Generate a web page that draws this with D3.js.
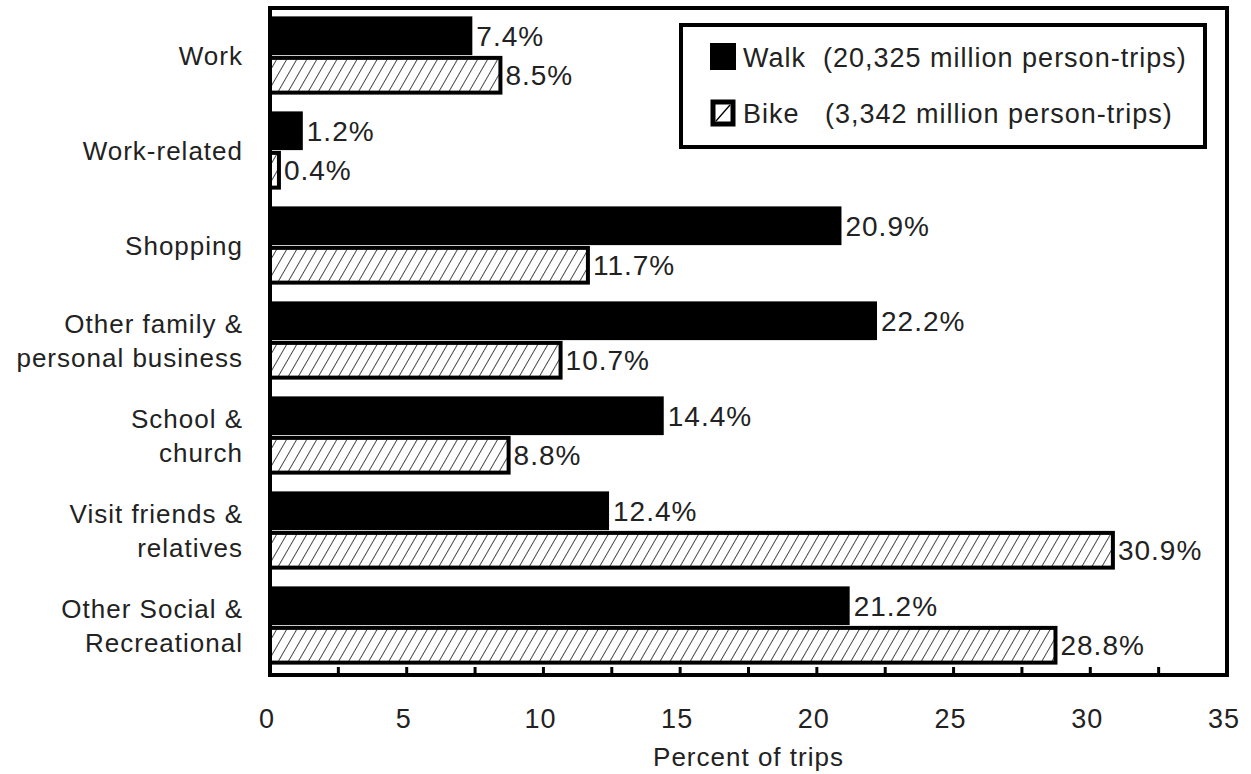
<!DOCTYPE html>
<html>
<head>
<meta charset="utf-8">
<script src="https://d3js.org/d3.v7.min.js"></script>
<style>
    html, body { margin: 0; padding: 0; background: white; }
    svg { display: block; }
    text { font-family: "Liberation Sans", Arial, sans-serif; fill: #222; letter-spacing: 1px; }
</style>
</head>
<body>
<svg width="1251" height="774"></svg>
<script>
    // purposes of trips, one label line per entry
    var categories = [
        ["Work"],
        ["Work-related"],
        ["Shopping"],
        ["Other family &", "personal business"],
        ["School &", "church"],
        ["Visit friends &", "relatives"],
        ["Other Social &", "Recreational"]
    ];
    var walk = [7.4, 1.2, 20.9, 22.2, 14.4, 12.4, 21.2];
    var bike = [8.5, 0.4, 11.7, 10.7, 8.8, 30.9, 28.8];
    var xTickLabels = [0, 5, 10, 15, 20, 25, 30, 35];
    var xMinorTicks = [2.5, 5, 7.5, 10, 12.5, 15, 17.5, 20, 22.5, 25, 27.5, 30, 32.5];
    var legendLabels = ["Walk  (20,325 million person-trips)", "Bike   (3,342 million person-trips)"];

    var svg = d3.select("svg");

    var plotLeft = 270, plotRight = 1227, plotTop = 8, plotBottom = 675;

    var x = d3.scaleLinear().domain([0, 35]).range([plotLeft, plotRight]);
    var y = d3.scaleBand()
        .domain(d3.range(categories.length))
        .range([plotTop, plotBottom - 2])
        .paddingInner(0.16)
        .paddingOuter(0.08);
    var sub = d3.scaleBand().domain(["walk", "bike"]).range([0, y.bandwidth()]).padding(0.02);

    // hatch for bike bars
    var hs = 8.7;
    var pat = svg.append("defs").append("pattern")
        .attr("id", "hatch")
        .attr("patternUnits", "userSpaceOnUse")
        .attr("width", hs).attr("height", hs)
        .attr("patternTransform", "rotate(30)");
    pat.append("rect").attr("width", hs).attr("height", hs).attr("fill", "white");
    pat.append("line")
        .attr("x1", 0).attr("y1", 0).attr("x2", 0).attr("y2", hs)
        .attr("stroke", "#000").attr("stroke-width", 1.4);

    var groups = svg.append("g").selectAll("g")
        .data(categories)
        .enter().append("g")
        .attr("transform", function (d, i) { return "translate(0," + y(i) + ")"; });

    // walk bars
    groups.append("rect")
        .attr("x", x(0))
        .attr("y", sub("walk"))
        .attr("width", function (d, i) { return x(walk[i]) - x(0); })
        .attr("height", sub.bandwidth())
        .attr("fill", "#000");

    // bike bars
    groups.append("rect")
        .attr("x", x(0))
        .attr("y", sub("bike") + 2)
        .attr("width", function (d, i) { return Math.max(x(bike[i]) - x(0) - 2, 1); })
        .attr("height", sub.bandwidth() - 4)
        .attr("fill", "url(#hatch)")
        .attr("stroke", "#000")
        .attr("stroke-width", 4);

    groups.append("text")
        .attr("x", function (d, i) { return x(walk[i]) + 4; })
        .attr("y", sub("walk") + sub.bandwidth() / 2)
        .attr("dy", "0.36em")
        .attr("font-size", 28)
        .attr("letter-spacing", 1.5)
        .text(function (d, i) { return walk[i].toFixed(1) + "%"; });

    groups.append("text")
        .attr("x", function (d, i) { return x(bike[i]) + 3; })
        .attr("y", sub("bike") + sub.bandwidth() / 2)
        .attr("dy", "0.36em")
        .attr("font-size", 28)
        .attr("letter-spacing", 1.5)
        .text(function (d, i) { return bike[i].toFixed(1) + "%"; });

    // category labels
    groups.append("text")
        .attr("text-anchor", "end")
        .attr("font-size", 26)
        .each(function (d) {
            var t = d3.select(this);
            var lh = 34;
            d.forEach(function (line, j) {
                t.append("tspan")
                    .attr("x", 243)
                    .attr("y", y.bandwidth() / 2 + (j - (d.length - 1) / 2) * lh)
                    .attr("dy", "0.36em")
                    .text(line);
            });
        });

    // frame
    svg.append("rect")
        .attr("x", plotLeft).attr("y", plotTop)
        .attr("width", plotRight - plotLeft).attr("height", plotBottom - plotTop)
        .attr("fill", "none")
        .attr("stroke", "#000")
        .attr("stroke-width", 4);

    // minor ticks pointing up from the bottom axis
    svg.append("g").selectAll("line")
        .data(xMinorTicks)
        .enter().append("line")
        .attr("x1", function (d) { return x(d); })
        .attr("x2", function (d) { return x(d); })
        .attr("y1", plotBottom)
        .attr("y2", plotBottom - 8)
        .attr("stroke", "#000")
        .attr("stroke-width", 3);

    svg.append("g").selectAll("text")
        .data(xTickLabels)
        .enter().append("text")
        .attr("x", function (d) { return x(d) - 3; })
        .attr("y", 718)
        .attr("dy", "0.36em")
        .attr("text-anchor", "middle")
        .attr("font-size", 27)
        .text(function (d) { return d; });

    svg.append("text")
        .attr("x", (plotLeft + plotRight) / 2)
        .attr("y", 757)
        .attr("dy", "0.36em")
        .attr("text-anchor", "middle")
        .attr("font-size", 26)
        .text("Percent of trips");

    // legend
    var legend = svg.append("g");
    legend.append("rect")
        .attr("x", 681).attr("y", 25)
        .attr("width", 524).attr("height", 122)
        .attr("fill", "white")
        .attr("stroke", "#000")
        .attr("stroke-width", 4);
    legend.append("rect")
        .attr("x", 710).attr("y", 43)
        .attr("width", 26).attr("height", 27)
        .attr("fill", "#000");
    legend.append("rect")
        .attr("x", 713).attr("y", 102)
        .attr("width", 20).attr("height", 22)
        .attr("fill", "white")
        .attr("stroke", "#000")
        .attr("stroke-width", 5);
    legend.append("line")
        .attr("x1", 716).attr("y1", 121).attr("x2", 730).attr("y2", 105)
        .attr("stroke", "#000").attr("stroke-width", 1.3);
    legend.selectAll("text.lg")
        .data(legendLabels)
        .enter().append("text")
        .attr("class", "lg")
        .attr("x", 743)
        .attr("y", function (d, i) { return 57 + i * 56; })
        .attr("dy", "0.36em")
        .attr("font-size", 27)
        .attr("letter-spacing", 1.2)
        .style("white-space", "pre")
        .text(function (d) { return d; });
</script>
</body>
</html>
